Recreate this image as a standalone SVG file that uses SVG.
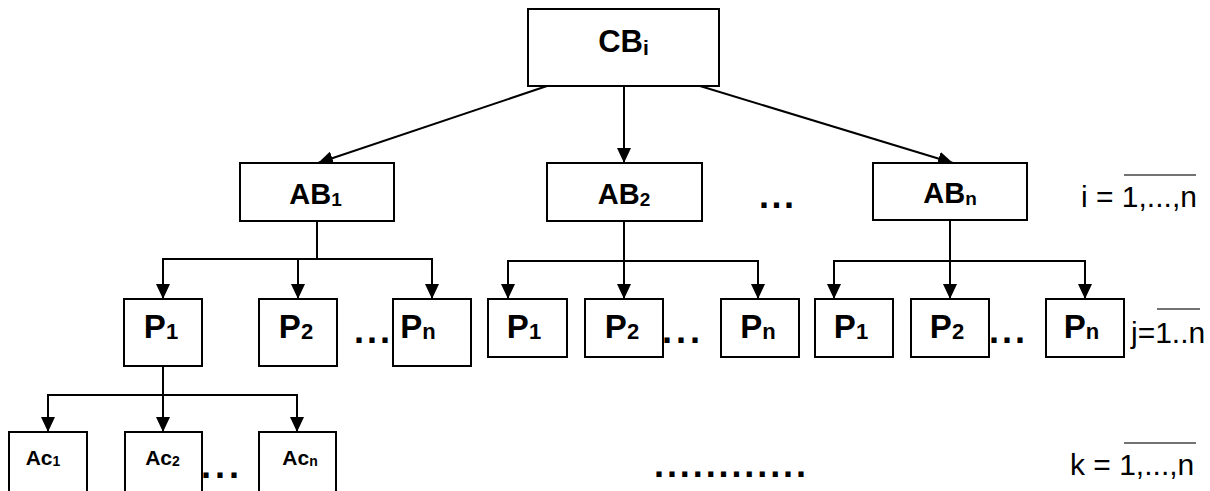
<svg xmlns="http://www.w3.org/2000/svg" width="1210" height="491" viewBox="0 0 1210 491">
<style>
.box{fill:#fff;stroke:#000;stroke-width:2}
.ln{fill:none;stroke:#000;stroke-width:2}
.arr{fill:none;stroke:#000;stroke-width:2;marker-end:url(#ah)}
.t{font-family:"Liberation Sans",Arial,sans-serif;font-weight:bold;fill:#000;text-anchor:middle}
.big{font-size:31px}
.ab{font-size:29px}
.p{font-size:33px}
.ac{font-size:21px}
.dots{font-family:"Liberation Sans",Arial,sans-serif;font-weight:bold;font-size:36px;fill:#000}
.lbl{font-family:"Liberation Sans",Arial,sans-serif;font-size:30px;fill:#000}
.ov{stroke:#444;stroke-width:1.5}
</style>
<defs>
<marker id="ah" markerUnits="userSpaceOnUse" markerWidth="15" markerHeight="14" refX="15" refY="7" orient="auto">
<path d="M0,0 L15,7 L0,14 z" fill="#000"/>
</marker>
</defs>

<g id="connectors">
<line class="arr" x1="547" y1="86" x2="318" y2="163"/>
<line class="arr" x1="624" y1="86" x2="624" y2="163"/>
<line class="arr" x1="700" y1="86" x2="953" y2="163"/>

<line class="ln" x1="317" y1="221" x2="317" y2="259"/>
<line class="ln" x1="162" y1="259" x2="433" y2="259"/>
<line class="arr" x1="163" y1="259" x2="163" y2="299"/>
<line class="arr" x1="298" y1="259" x2="298" y2="299"/>
<line class="arr" x1="432" y1="259" x2="432" y2="299"/>

<line class="ln" x1="624" y1="221" x2="624" y2="261"/>
<line class="ln" x1="507" y1="261" x2="759" y2="261"/>
<line class="arr" x1="508" y1="261" x2="508" y2="299"/>
<line class="arr" x1="624" y1="261" x2="624" y2="299"/>
<line class="arr" x1="758" y1="261" x2="758" y2="299"/>

<line class="ln" x1="950" y1="220" x2="950" y2="261"/>
<line class="ln" x1="833" y1="261" x2="1086" y2="261"/>
<line class="arr" x1="834" y1="261" x2="834" y2="299"/>
<line class="arr" x1="950" y1="261" x2="950" y2="299"/>
<line class="arr" x1="1085" y1="261" x2="1085" y2="299"/>

<line class="ln" x1="163" y1="366" x2="163" y2="395"/>
<line class="ln" x1="47" y1="395" x2="298" y2="395"/>
<line class="arr" x1="48" y1="395" x2="48" y2="432"/>
<line class="arr" x1="163" y1="395" x2="163" y2="432"/>
<line class="arr" x1="297" y1="395" x2="297" y2="432"/>
</g>

<g id="CB">
<rect class="box" x="528" y="9" width="191" height="77"/>
<text class="t big" x="623.5" y="52">CB<tspan font-size="21" dy="3">i</tspan></text>
</g>

<g id="AB1">
<rect class="box" x="240" y="163" width="154" height="58"/>
<text class="t ab" x="315.5" y="204">AB<tspan font-size="19" dy="2">1</tspan></text>
</g>
<g id="AB2">
<rect class="box" x="547" y="163" width="155" height="58"/>
<text class="t ab" x="624" y="204">AB<tspan font-size="19" dy="2">2</tspan></text>
</g>
<g id="ABn">
<rect class="box" x="873" y="163" width="154" height="57"/>
<text class="t ab" x="950" y="203">AB<tspan font-size="19" dy="2">n</tspan></text>
</g>

<g id="P1-a">
<rect class="box" x="124" y="299" width="78" height="67"/>
<text class="t p" x="161" y="338">P<tspan font-size="22" dy="1">1</tspan></text>
</g>
<g id="P2-a">
<rect class="box" x="259" y="299" width="78" height="67"/>
<text class="t p" x="296" y="338">P<tspan font-size="22" dy="1">2</tspan></text>
</g>
<g id="Pn-a">
<rect class="box" x="393" y="299" width="78" height="67"/>
<text class="t p" x="418" y="338">P<tspan font-size="22" dy="1">n</tspan></text>
</g>

<g id="P1-b">
<rect class="box" x="488" y="299" width="79" height="58"/>
<text class="t p" x="524" y="338">P<tspan font-size="22" dy="1">1</tspan></text>
</g>
<g id="P2-b">
<rect class="box" x="585" y="299" width="78" height="58"/>
<text class="t p" x="622" y="338">P<tspan font-size="22" dy="1">2</tspan></text>
</g>
<g id="Pn-b">
<rect class="box" x="721" y="299" width="78" height="58"/>
<text class="t p" x="758" y="338">P<tspan font-size="22" dy="1">n</tspan></text>
</g>

<g id="P1-c">
<rect class="box" x="815" y="299" width="78" height="58"/>
<text class="t p" x="851" y="338">P<tspan font-size="22" dy="1">1</tspan></text>
</g>
<g id="P2-c">
<rect class="box" x="911" y="299" width="78" height="58"/>
<text class="t p" x="947" y="338">P<tspan font-size="22" dy="1">2</tspan></text>
</g>
<g id="Pn-c">
<rect class="box" x="1046" y="299" width="78" height="58"/>
<text class="t p" x="1081.5" y="338">P<tspan font-size="22" dy="1">n</tspan></text>
</g>

<g id="Ac1">
<rect class="box" x="9" y="432" width="78" height="60"/>
<text class="t ac" x="43" y="465">Ac<tspan font-size="14" dy="1">1</tspan></text>
</g>
<g id="Ac2">
<rect class="box" x="125" y="432" width="77" height="60"/>
<text class="t ac" x="162.5" y="465">Ac<tspan font-size="14" dy="1">2</tspan></text>
</g>
<g id="Acn">
<rect class="box" x="259" y="432" width="77" height="60"/>
<text class="t ac" x="300" y="465">Ac<tspan font-size="14" dy="1">n</tspan></text>
</g>

<g id="ellipses">
<text class="dots" x="759" y="208" textLength="35" lengthAdjust="spacing">...</text>
<text class="dots" x="354" y="343" textLength="36" lengthAdjust="spacing">...</text>
<text class="dots" x="662" y="343" textLength="38" lengthAdjust="spacing">...</text>
<text class="dots" x="989" y="343" textLength="36" lengthAdjust="spacing">...</text>
<text class="dots" x="201" y="478" textLength="38" lengthAdjust="spacing">...</text>
<text class="dots" x="654" y="477" textLength="152" lengthAdjust="spacing">............</text>
</g>

<g id="labels">
<text class="lbl" x="1081" y="207">i = 1,...,n</text>
<line class="ov" x1="1124" y1="175" x2="1196" y2="175"/>
<text class="lbl" x="1131" y="343" font-size="28">j=1..n</text>
<line class="ov" x1="1157" y1="309" x2="1200" y2="309"/>
<text class="lbl" x="1070" y="475">k = 1,...,n</text>
<line class="ov" x1="1124" y1="443" x2="1196" y2="443"/>
</g>
</svg>
